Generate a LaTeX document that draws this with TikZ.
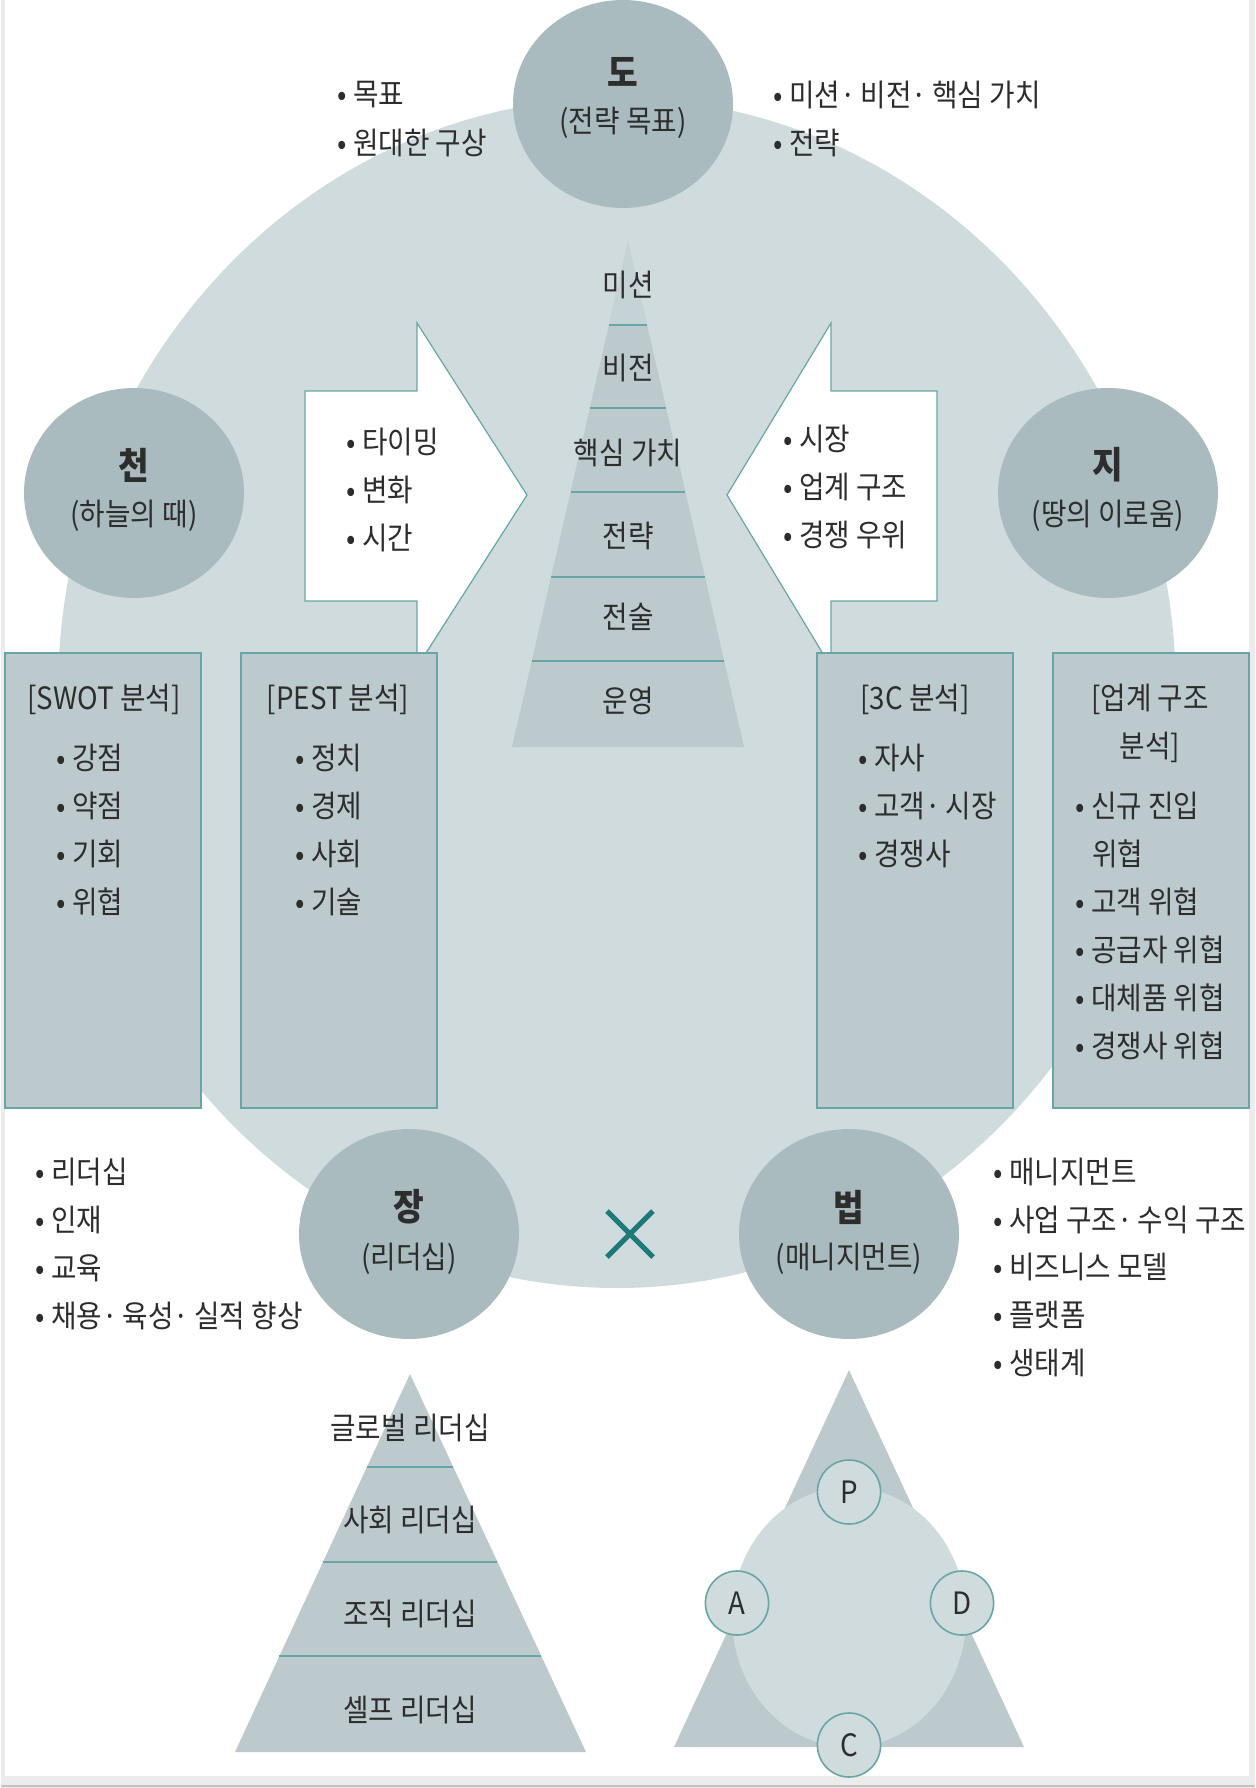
\documentclass[tikz,border=0pt]{standalone}
\usepackage{fontspec}
\setmainfont{Noto Sans CJK KR}[FakeStretch=0.9]
\definecolor{bigcirc}{RGB}{208,219,222}
\definecolor{titlecirc}{RGB}{169,187,190}
\definecolor{boxfill}{RGB}{188,202,205}
\definecolor{pyrtop}{RGB}{198,211,214}
\definecolor{tealline}{RGB}{104,166,166}
\definecolor{darkteal}{RGB}{30,122,120}
\definecolor{txt}{RGB}{45,45,45}
\definecolor{edge}{RGB}{236,236,236}
\definecolor{edgeline}{RGB}{196,196,196}

\tikzset{
  itemtext/.style={anchor=west, text=txt, inner sep=0pt, font=\fontsize{15.4}{18}\selectfont},
  centertext/.style={text=txt, inner sep=0pt, font=\fontsize{15.4}{18}\selectfont},
  circtitle/.style={text=txt, inner sep=0pt, font=\fontsize{18.5}{22}\selectfont\bfseries},
  infobox/.style={fill=boxfill, draw=tealline, line width=1pt},
  blockarrow/.style={fill=white, draw=tealline, line width=0.6pt},
  divider/.style={draw=tealline, line width=1.2pt},
  smallcirc/.style={fill=bigcirc, draw=tealline, line width=0.8pt}
}

\begin{document}
\begin{tikzpicture}[x=0.5pt, y=-0.5pt]
\fill[edge] (0,0) rectangle (1254,1788);
\fill[white] (4,0) rectangle (1248,1776);
\draw[edgeline, line width=1pt] (0,1786) -- (1254,1786);

% big circle
\fill[bigcirc] (616,693) ellipse [x radius=279.5pt, y radius=297.5pt];

% centre pyramid
\fill[boxfill] (627,242) -- (743,747) -- (511,747) -- cycle;
\fill[pyrtop] (627,242) -- (646,325) -- (608,325) -- cycle;
\foreach \y in {325,408,492,577,661}
  \draw[divider] ({627-(\y-242)/505*116},\y) -- ({627+(\y-242)/505*116},\y);

% arrows
\filldraw[blockarrow] (304,391) -- (416,391) -- (416,323) -- (526,495) -- (416,667) -- (416,601) -- (304,601) -- cycle;
\filldraw[blockarrow] (936,391) -- (830,391) -- (830,323) -- (726,495) -- (830,667) -- (830,601) -- (936,601) -- cycle;

% boxes
\filldraw[infobox] (4,653) rectangle (200,1108);
\filldraw[infobox] (240,653) rectangle (436,1108);
\filldraw[infobox] (816,653) rectangle (1012,1108);
\filldraw[infobox] (1052,653) rectangle (1248,1108);

% circles
\fill[titlecirc] (622,104) ellipse [x radius=55pt, y radius=52pt];
\fill[titlecirc] (133,493) ellipse [x radius=55pt, y radius=52.5pt];
\fill[titlecirc] (1107,493) ellipse [x radius=55pt, y radius=52.5pt];
\fill[titlecirc] (408,1234) ellipse [x radius=55pt, y radius=52.5pt];
\fill[titlecirc] (848,1234) ellipse [x radius=55pt, y radius=52.5pt];

\node[circtitle] (do) at (622,72) {도};
\node[centertext] (dosub) at (622,123) {(전략 목표)};
\node[circtitle] (cheon) at (133,465) {천};
\node[centertext] (cheonsub) at (133,516) {(하늘의 때)};
\node[circtitle] (ji) at (1107,465) {지};
\node[centertext] (jisub) at (1107,516) {(땅의 이로움)};
\node[circtitle] (jang) at (408,1207) {장};
\node[centertext] (jangsub) at (408,1259) {(리더십)};
\node[circtitle] (beop) at (848,1207) {법};
\node[centertext] (beopsub) at (848,1259) {(매니지먼트)};

% X
\draw[darkteal, line width=2.5pt] (606,1211) -- (652,1257) (606,1257) -- (652,1211);

% lists
\node[itemtext] (goal1) at (336,95) {• 목표};
\node[itemtext] (goal2) at (336,143) {• 원대한 구상};
\node[itemtext] (way1) at (772,95) {• 미션·\,비전·\,핵심 가치};
\node[itemtext] (way2) at (772,143) {• 전략};
\foreach \t [count=\i] in {타이밍,변화,시간}
  \node[itemtext] (time\i) at (345,{394+48*\i}) {• \t};
\foreach \t [count=\i] in {시장,업계 구조,경쟁 우위}
  \node[itemtext] (land\i) at (782,{391+48*\i}) {• \t};
\foreach \t/\y [count=\i] in {미션/285,비전/368,핵심 가치/453,전략/536,전술/617,운영/701}
  \node[centertext] (level\i) at (627,\y) {\t};

\node[centertext] (swot) at (103,699) {[SWOT 분석]};
\foreach \t [count=\i] in {강점,약점,기회,위협}
  \node[itemtext] (swot\i) at (55,{710+48*\i}) {• \t};
\node[centertext] (pest) at (337,699) {[PEST 분석]};
\foreach \t [count=\i] in {정치,경제,사회,기술}
  \node[itemtext] (pest\i) at (294,{710+48*\i}) {• \t};
\node[centertext] (threec) at (914,699) {[3C 분석]};
\foreach \t [count=\i] in {자사,고객·\,시장,경쟁사}
  \node[itemtext] (threec\i) at (857,{710+48*\i}) {• \t};
\node[centertext] (ind) at (1149,699) {[업계 구조};
\node[centertext] (indb) at (1149,747) {분석]};
\node[itemtext] (ind1) at (1074,806) {• 신규 진입};
\node[itemtext] (ind1b) at (1091,854) {위협};
\foreach \t [count=\i] in {고객 위협,공급자 위협,대체품 위협,경쟁사 위협}
  \node[itemtext] (indr\i) at (1074,{854+48*\i}) {• \t};

\foreach \t [count=\i] in {리더십,인재,교육,채용·\,육성·\,실적 향상}
  \node[itemtext] (lead\i) at (34,{1124+48*\i}) {• \t};
\foreach \t [count=\i] in {매니지먼트,사업 구조·\,수익 구조,비즈니스 모델,플랫폼,생태계}
  \node[itemtext] (mgmt\i) at (992,{1124+47.8*\i}) {• \t};

% leadership pyramid
\fill[boxfill] (409,1374) -- (585,1752) -- (234,1752) -- cycle;
\foreach \y in {1467,1562,1656}
  \draw[divider] ({409-(\y-1374)/378*175.5},\y) -- ({409+(\y-1374)/378*175.5},\y);
\foreach \t/\y [count=\i] in {글로벌 리더십/1428,사회 리더십/1520,조직 리더십/1614,셀프 리더십/1710}
  \node[centertext] (lv\i) at (409,\y) {\t};

% PDCA
\fill[boxfill] (848,1370) -- (1023,1747) -- (673,1747) -- cycle;
\fill[bigcirc] (848,1617) ellipse [x radius=58.5pt, y radius=65pt];
\foreach \t/\x/\y in {P/848/1492,A/736/1603,D/961/1603,C/848/1745} {
  \filldraw[smallcirc] (\x,\y) ellipse [x radius=15.8pt, y radius=16pt];
  \node[centertext] (pdca\t) at (\x,\y) {\t};
}
\end{tikzpicture}
\end{document}
